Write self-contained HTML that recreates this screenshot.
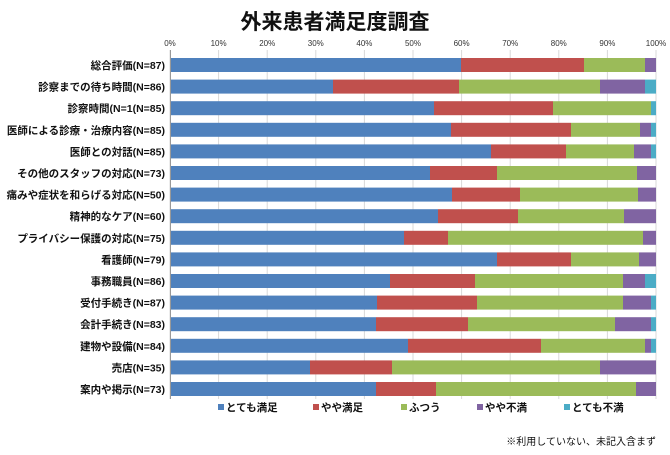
<!DOCTYPE html>
<html><head><meta charset="utf-8"><style>
body{margin:0;background:#fff;}
text{font-family:"Liberation Sans","Noto Sans CJK JP",sans-serif;}
</style></head><body>
<svg width="670" height="450" xmlns="http://www.w3.org/2000/svg">
<text x="335" y="29" text-anchor="middle" font-size="21" font-weight="bold" fill="#111">外来患者満足度調査</text>
<g id="grid" stroke="#d9d9d9" stroke-width="1"></g>
<g id="bars"></g>
<g id="labels" font-size="10.5" font-weight="bold" fill="#111" text-anchor="end"></g>
<g id="ticks" font-size="8" fill="#333" text-anchor="middle"></g>
<line x1="170.5" y1="50" x2="170.5" y2="399" stroke="#999"/>
<g font-size="10.5" font-weight="bold" fill="#111">
<rect x="218" y="404" width="6" height="6" fill="#4F81BD"/><text x="226" y="411">とても満足</text>
<rect x="313" y="404" width="6" height="6" fill="#C0504D"/><text x="321" y="411">やや満足</text>
<rect x="401" y="404" width="6" height="6" fill="#9BBB59"/><text x="409" y="411">ふつう</text>
<rect x="477" y="404" width="6" height="6" fill="#8064A2"/><text x="485" y="411">やや不満</text>
<rect x="564" y="404" width="6" height="6" fill="#4BACC6"/><text x="572" y="411">とても不満</text>
<text x="656" y="445" text-anchor="end" font-size="10" font-weight="normal">※利用していない、未記入含まず</text>
</g>
</svg>
<script>
var ns="http://www.w3.org/2000/svg";
function el(p,t,a,txt){var e=document.createElementNS(ns,t);for(var k in a)e.setAttribute(k,a[k]);if(txt)e.textContent=txt;document.getElementById(p).appendChild(e);}
var x0=170,w=486;
for(var i=0;i<=10;i++){var x=x0+w*i/10;el('grid','line',{x1:x,y1:50,x2:x,y2:399});el('ticks','text',{x:x,y:46},(i*10)+'%');}
var names=["総合評価(N=87)","診察までの待ち時間(N=86)","診察時間(N=1(N=85)","医師による診療・治療内容(N=85)","医師との対話(N=85)","その他のスタッフの対応(N=73)","痛みや症状を和らげる対応(N=50)","精神的なケア(N=60)","プライバシー保護の対応(N=75)","看護師(N=79)","事務職員(N=86)","受付手続き(N=87)","会計手続き(N=83)","建物や設備(N=84)","売店(N=35)","案内や掲示(N=73)"];
var d=[[461,584,645,656,656],[333,459,600,645,656],[434,553,651,651,656],[451,571,640,651,656],[491,566,634,651,656],[430,497,637,656,656],[452,520,638,656,656],[438,518,624,656,656],[404,448,643,656,656],[497,571,639,656,656],[390,475,623,645,656],[377,477,623,651,656],[376,468,615,651,656],[408,541,645,651,656],[310,392,600,656,656],[376,436,636,656,656]];
var c=["#4F81BD","#C0504D","#9BBB59","#8064A2","#4BACC6"];
for(var r=0;r<16;r++){var yc=65+r*21.6;var p=x0;for(var j=0;j<5;j++){var e=d[r][j];if(e>p)el('bars','rect',{x:p,y:yc-7,width:e-p,height:14,fill:c[j]});p=e;}
el('labels','text',{x:165,y:yc+4},names[r]);}
</script>
</body></html>
